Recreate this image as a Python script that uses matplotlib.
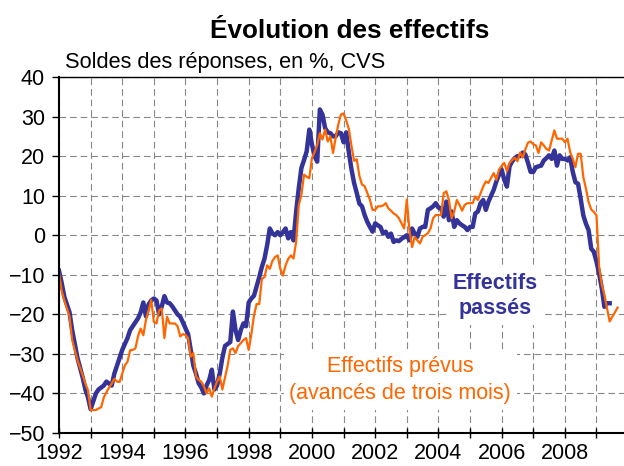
import numpy as np
import matplotlib.pyplot as plt

plt.rcParams['font.family'] = ['Liberation Sans', 'DejaVu Sans']

start_year = 1992

# effectifs passes, soldes mensuels (une ligne par annee)
effectifs_passes = [
    -9, -12, -15.5, -17.5, -19.5, -24, -27.5, -31, -33.5, -36, -39, -41,      # 1992
    -44, -42, -40, -39, -38.5, -38, -37, -37.5, -38, -35, -33, -31,           # 1993
    -29, -27.5, -26, -24, -23, -22, -21, -19.5, -17, -20.5, -17.5, -16.5,     # 1994
    -16, -16.5, -20, -18, -15.4, -17, -17.2, -18, -19, -20, -20.6, -22,       # 1995
    -23.5, -25, -29, -33, -35, -37.4, -38.5, -40, -38, -36.6, -34, -39,       # 1996
    -38, -35, -31, -28, -27.5, -27, -19.3, -24, -26.5, -24, -22.3, -23,       # 1997
    -17, -16, -15.3, -13, -10.6, -8, -5.9, -2.5, 1.7, 0.5, 0, 0.8,            # 1998
    0, 0.8, 1.7, -0.8, 0.8, -1.3, 5.9, 11.9, 17, 19, 21.2, 26.7,              # 1999
    23, 20, 18.6, 31.8, 30.5, 27.1, 26, 25.8, 25, 25, 26, 25.8,               # 2000
    23.5, 26, 21, 16.7, 13.2, 10.7, 8, 7.3, 5.1, 3.4, 2.1, 0.9,               # 2001
    3, 2.5, 2.1, 0.4, 0.9, -0.4, 0.4, -1.7, -1.3, -1.5, -0.9, -0.5,           # 2002
    0, -1.3, 1.7, 0.4, -0.4, 1.7, 2.1, 2.1, 6.4, 6.8, 7.3, 8.1,               # 2003
    7, 6.8, 4.7, 8.5, 3.8, 6, 2.1, 3.8, 3, 2.5, 2.1, 1.3,                     # 2004
    2.1, 2.1, 5.5, 6, 8.1, 8.9, 6.4, 8.5, 10, 11.5, 13.6, 15.3,               # 2005
    16.6, 14, 12.3, 17.4, 18.7, 19.5, 20, 20, 20.9, 20.4, 18.3, 16,           # 2006
    16, 17.2, 17.4, 17.6, 18.9, 19.5, 20.2, 19.3, 21.4, 17.6, 20.2, 19.3,     # 2007
    19.3, 18.9, 19.7, 16, 13.4, 13, 9.2, 5, 2.9, 1.3, -3.4, -4.2,             # 2008
    -6.7, -9.7, -13.4, -18.1, -17.2, -17.2,                                   # 2009
]

# effectifs prevus, avances de trois mois
effectifs_prevus = [
    -9.6, -14, -16.5, -18.5, -20.6, -26.5, -29, -31.6, -33.5, -35.4, -37.5, -39.2,   # 1992
    -44.2, -44.2, -44.2, -43.8, -43.5, -41, -39.7, -38.5, -37.5, -36.3, -37, -37.1,  # 1993
    -35, -32.9, -32, -29.1, -29, -28.6, -25.5, -23.6, -25.3, -21.4, -19, -16.4,      # 1994
    -21.9, -22.3, -19, -18.5, -26, -20.6, -22.3, -22.3, -22.3, -23, -25.6, -25,      # 1995
    -25.2, -26, -30.7, -29.8, -35.7, -36.6, -37, -38.2, -40, -38.7, -40.8, -38.7,    # 1996
    -37, -35.7, -39, -36, -33, -29, -28.6, -29.8, -28, -27.3, -26.5, -26,            # 1997
    -29, -25, -20.3, -17.4, -17.4, -11, -10.6, -7.6, -8.5, -6.5, -5.5, -5.1,         # 1998
    -8.5, -10.2, -7.6, -6, -5.1, -5.9, -1.7, 7.6, 10.2, 15.3, 14.8, 14.4,            # 1999
    19.5, 21, 22.9, 25.8, 24.2, 26.7, 23.7, 25, 20.8, 24.6, 28, 30.5,                # 2000
    30.8, 29, 26.9, 22.6, 18.8, 19.2, 15, 12.8, 12.4, 10.7, 9, 6.4,                  # 2001
    6.4, 7.3, 7.3, 7.5, 8.1, 6.8, 6.2, 5.5, 5.1, 4.3, 3, 1.7,                        # 2002
    9, 1.3, -3, -0.4, -1.3, -2.1, -0.4, 0, 0.5, 1.7, 4.3, 5.1,                       # 2003
    5.1, 5.1, 10.6, 11.1, 8.9, 4.3, 6, 8.9, 7.7, 6.2, 7.7, 8.1,                      # 2004
    8.1, 8.1, 9.8, 8.9, 10.6, 12.3, 13.6, 13.2, 14.5, 15.7, 14, 16.6,                # 2005
    17.5, 18.3, 16.2, 18.3, 19, 19.6, 18.7, 20.9, 19.6, 21.7, 23.4, 23.7,            # 2006
    23, 22.7, 20.8, 23.5, 22.7, 21.8, 21.4, 23.9, 26.5, 24.4, 24.4, 24.4,            # 2007
    23.5, 24.4, 21, 19.3, 17.2, 20.6, 20.6, 14.7, 11.8, 8.4, 6.5, 5.9,               # 2008
    5, -8, -12.5, -15, -18.5, -21.8, -20.6, -19.5, -18.3,                            # 2009
]

x_passes = start_year + np.arange(len(effectifs_passes)) / 12
x_prevus = start_year + np.arange(len(effectifs_prevus)) / 12

blue = '#333399'
orange = '#FF6600'

fig = plt.figure(figsize=(6.24, 4.66), dpi=100)
ax = fig.add_axes([59 / 624, 33 / 466, 565 / 624, 356 / 466])

ax.plot(x_passes, effectifs_passes, color=blue, lw=3.2, solid_joinstyle='round')
ax.plot(x_prevus, effectifs_prevus, color=orange, lw=1.6, solid_joinstyle='round')

ax.set_xlim(1992, 2009.87)
ax.set_ylim(-50, 40)

years = np.arange(1992, 2010)
ax.set_xticks(years)
ax.set_xticklabels([str(y) if y % 2 == 0 else '' for y in years], fontsize=15.5)
ax.set_yticks(np.arange(-50, 41, 10))
ax.tick_params(axis='y', direction='out', length=5, width=1, labelsize=15.5, pad=5)
ax.tick_params(axis='x', direction='inout', length=7, width=1, pad=3.5)

ax.grid(True, color='#888888', lw=0.8, ls=(0, (6, 3.5)))
ax.set_axisbelow(True)

ax.spines['right'].set_visible(False)
ax.spines['left'].set_linewidth(1.5)
ax.spines['bottom'].set_linewidth(1.5)
ax.spines['top'].set_linewidth(1.0)

fig.text(0.56, 1 - 38 / 466, 'Évolution des effectifs', ha='center', va='baseline',
         fontsize=18.8, fontweight='bold')
fig.text(65 / 624, 1 - 68 / 466, 'Soldes des réponses, en %, CVS', ha='left',
         va='baseline', fontsize=15.7)

# zones de texte sur fond blanc, comme dans l'original
box = dict(facecolor='white', edgecolor='none', pad=4)
ax.text(2005.8, -20.0, 'Effectifs\npassés', color=blue, fontsize=15.5,
        fontweight='bold', ha='center', va='baseline', linespacing=1.25, bbox=box)
ax.text(2002.79, -41.4, 'Effectifs prévus\n(avancés de trois mois)', color=orange,
        fontsize=15.5, ha='center', va='baseline', linespacing=1.35, bbox=box)

fig.savefig('out.png', dpi=100)
